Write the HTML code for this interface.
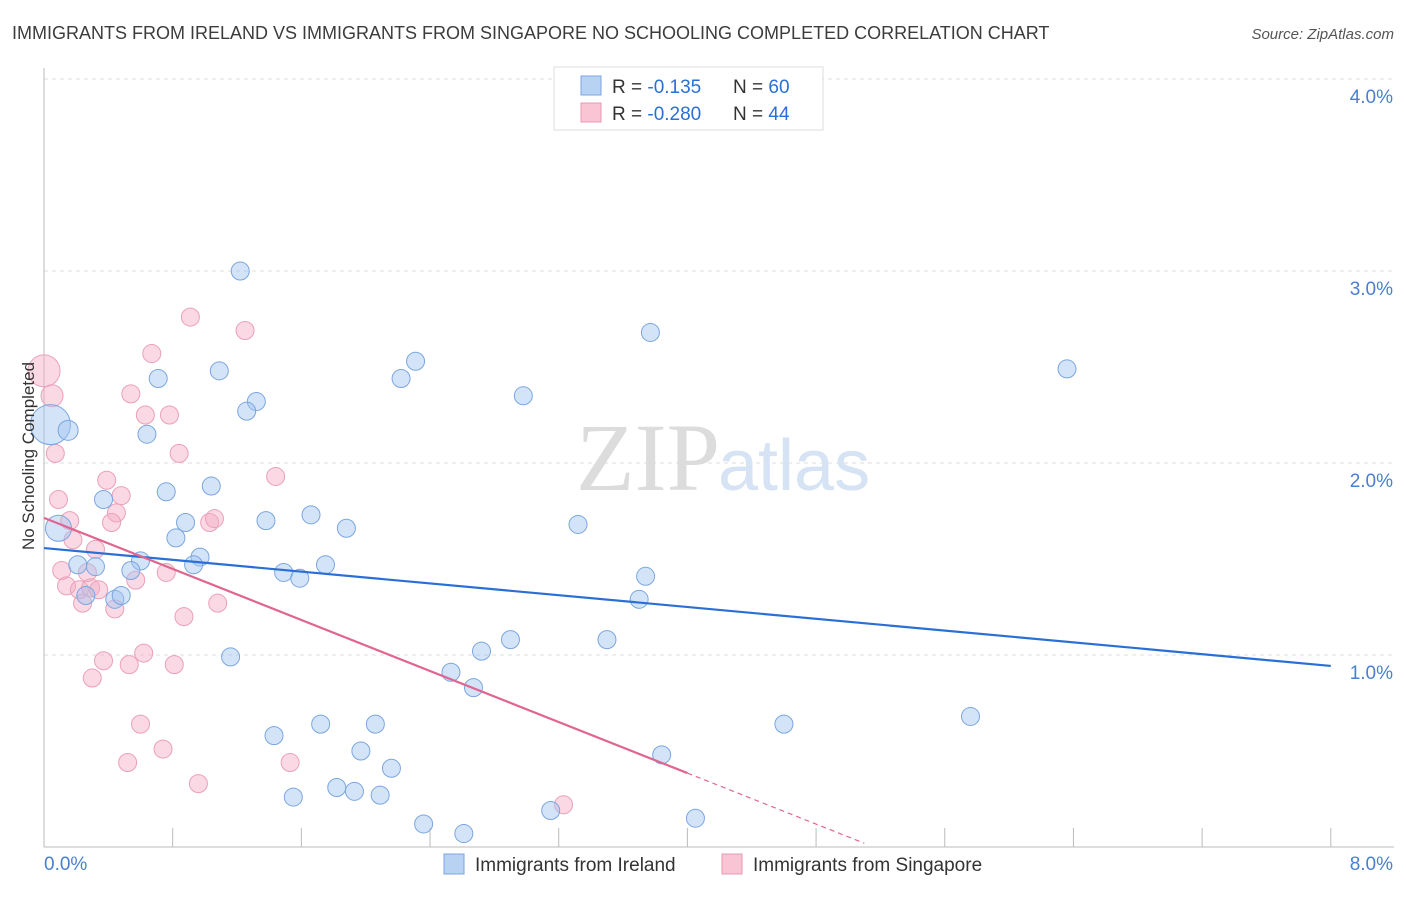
<!DOCTYPE html>
<html><head><meta charset="utf-8"><style>
body{margin:0;background:#fff;font-family:"Liberation Sans",sans-serif;}
</style></head><body>
<svg width="1406" height="892" viewBox="0 0 1406 892" xmlns="http://www.w3.org/2000/svg" style="font-family:'Liberation Sans',sans-serif">
<text x="12" y="39" font-size="18" fill="#3c3c3c">IMMIGRANTS FROM IRELAND VS IMMIGRANTS FROM SINGAPORE NO SCHOOLING COMPLETED CORRELATION CHART</text>
<text x="1394" y="39" font-size="15" fill="#555" text-anchor="end" font-style="italic">Source: ZipAtlas.com</text>
<g id="grid"></g>
<g id="axes"></g>
<text x="720" y="490" font-size="96" fill="#dcdcdc" text-anchor="end" font-family="Liberation Serif">ZIP</text>
<text x="718" y="490" font-size="72" fill="#d6e3f4">atlas</text>
<g id="pts"></g>
<g id="lines"></g>
<text transform="translate(34,456) rotate(-90)" font-size="17" fill="#333" text-anchor="middle">No Schooling Completed</text>
<g>
<rect x="554" y="67" width="269" height="63" fill="#fff" stroke="#ddd"/>
<rect x="581" y="76" width="20" height="19" fill="#b8d2f4" stroke="#7aa6e0"/>
<rect x="581" y="103" width="20" height="19" fill="#f9c4d4" stroke="#e99ab2"/>
<text x="612" y="93" font-size="19" fill="#333">R = <tspan fill="#2a6fd6"> -0.135</tspan><tspan x="733">N = </tspan><tspan fill="#2a6fd6">60</tspan></text>
<text x="612" y="120" font-size="19" fill="#333">R = <tspan fill="#2a6fd6">-0.280</tspan><tspan x="733">N = </tspan><tspan fill="#2a6fd6">44</tspan></text>
</g>
<g>
<rect x="444" y="854" width="20" height="20" fill="#b8d2f4" stroke="#7aa6e0"/>
<text x="475" y="871" font-size="19" fill="#333">Immigrants from Ireland</text>
<rect x="722" y="854" width="20" height="20" fill="#f9c4d4" stroke="#e99ab2"/>
<text x="753" y="871" font-size="19" fill="#333">Immigrants from Singapore</text>
</g>
</svg>
<script>
const xTicks=[0,0.8,1.6,2.4,3.2,4,4.8,5.6,6.4,7.2,8];
const yTicks=[1,2,3,4];
const yTickLabels=["1.0%","2.0%","3.0%","4.0%"];
const irelandX=[0.04,0.15,0.09,1.22,0.71,0.64,1.09,1.32,1.26,2.31,2.22,2.98,3.77,6.36,0.37,0.76,1.04,0.88,0.82,1.38,1.66,1.88,3.32,0.97,0.93,0.6,0.54,0.32,0.21,0.26,0.44,0.48,1.49,1.59,1.75,3.74,3.7,1.16,2.9,2.72,3.5,2.53,2.67,1.43,1.72,2.06,4.6,5.76,1.97,2.16,3.84,1.55,1.82,1.93,2.09,2.36,2.61,3.15,4.05,3.64];
const irelandY=[2.2,2.17,1.66,3.0,2.44,2.15,2.48,2.32,2.27,2.53,2.44,2.35,2.68,2.49,1.81,1.85,1.88,1.69,1.61,1.7,1.73,1.66,1.68,1.51,1.47,1.49,1.44,1.46,1.47,1.31,1.29,1.31,1.43,1.4,1.47,1.41,1.29,0.99,1.08,1.02,1.08,0.91,0.83,0.58,0.64,0.64,0.64,0.68,0.5,0.41,0.48,0.26,0.31,0.29,0.27,0.12,0.07,0.19,0.15,3.93];
const irelandR=[20,10,13,9,9,9,9,9,9,9,9,9,9,9,9,9,9,9,9,9,9,9,9,9,9,9,9,9,9,9,9,9,9,9,9,9,9,9,9,9,9,9,9,9,9,9,9,9,9,9,9,9,9,9,9,9,9,9,9,9];
const singX=[0,0.05,0.07,0.09,0.16,0.18,0.32,0.11,0.14,0.22,0.29,0.34,0.27,0.39,0.48,0.45,0.42,0.24,0.44,0.57,0.54,0.67,0.63,0.78,0.84,0.91,1.25,1.44,1.03,1.06,0.76,0.87,1.08,0.37,0.3,0.53,0.62,0.81,0.6,0.74,0.52,0.96,1.53,3.23];
const singY=[2.48,2.35,2.05,1.81,1.7,1.6,1.55,1.44,1.36,1.34,1.35,1.34,1.43,1.91,1.83,1.74,1.69,1.27,1.24,1.39,2.36,2.57,2.25,2.25,2.05,2.76,2.69,1.93,1.69,1.71,1.43,1.2,1.27,0.97,0.88,0.95,1.01,0.95,0.64,0.51,0.44,0.33,0.44,0.22];
const singR=[16,11,9,9,9,9,9,9,9,9,9,9,9,9,9,9,9,9,9,9,9,9,9,9,9,9,9,9,9,9,9,9,9,9,9,9,9,9,9,9,9,9,9,9];
const irelandTrend=[1.557,0.943];
const singTrend=[1.714,0.385,0.02];
const X=v=>44+v*160.85, Y=v=>847-v*192;
const NS="http://www.w3.org/2000/svg";
function mk(tag,attrs,parent){const e=document.createElementNS(NS,tag);for(const k in attrs)e.setAttribute(k,attrs[k]);document.getElementById(parent).appendChild(e);return e;}
yTicks.forEach((t,i)=>{
 const l=mk('line',{x1:44,x2:1394,y1:Y(t),y2:Y(t),stroke:'#ddd','stroke-dasharray':'4,4'},'grid');
 
 
 const tx=mk('text',{x:1393,y:Y(t)+24,'font-size':19,fill:'#4a7fd0','text-anchor':'end'},'grid');
 tx.textContent=yTickLabels[i];
 
 
});
const g0=mk('line',{x1:44,x2:1394,y1:Y(4),y2:Y(4),stroke:'#ddd','stroke-dasharray':'4,4'},'grid');
mk('line',{x1:44,x2:44,y1:68,y2:847,stroke:'#bbb'},'axes');
mk('line',{x1:44,x2:1394,y1:847,y2:847,stroke:'#bbb'},'axes');
xTicks.forEach(t=>{const l=mk('line',{x1:X(t),x2:X(t),y1:828,y2:847,stroke:'#bbb'},'axes');
 
 });
const xl=mk('text',{x:44,y:870,'font-size':19,fill:'#4a7fd0'},'axes');xl.textContent='0.0%';


const xr=mk('text',{x:1393,y:870,'font-size':19,fill:'#4a7fd0','text-anchor':'end'},'axes');xr.textContent='8.0%';


singX.forEach((v,i)=>{const c=mk('circle',{cx:X(v),cy:Y(singY[i]),r:singR[i],fill:'rgba(244,170,195,0.45)',stroke:'#eba0b8','stroke-width':1},'pts');
 
 });
irelandX.forEach((v,i)=>{const c=mk('circle',{cx:X(v),cy:Y(irelandY[i]),r:irelandR[i],fill:'rgba(160,195,240,0.45)',stroke:'#7aa6e0','stroke-width':1},'pts');
 
 });
const bl=mk('line',{x1:X(0),y1:Y(irelandTrend[0]),x2:X(8),y2:Y(irelandTrend[1]),stroke:'#2a6fd6','stroke-width':2.2},'lines');


const pl=mk('line',{x1:X(0),y1:Y(singTrend[0]),x2:X(4),y2:Y(singTrend[1]),stroke:'#e06591','stroke-width':2.2},'lines');


const sl=(singTrend[1]-singTrend[0])/4;
const pd=mk('line',{x1:X(4),y1:Y(singTrend[1]),x2:X(5.1),y2:Y(singTrend[0]+sl*5.1),stroke:'#e06591','stroke-width':1.2,'stroke-dasharray':'5,4'},'lines');


</script>
</body></html>
